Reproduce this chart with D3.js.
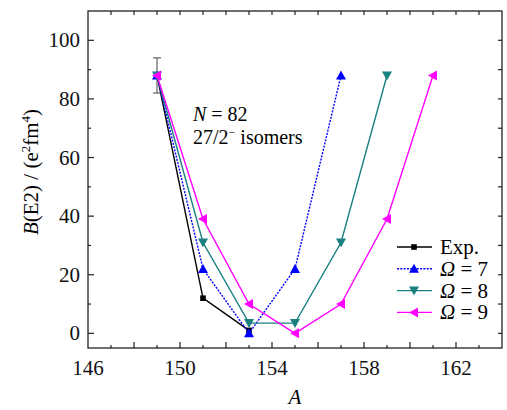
<!DOCTYPE html>
<html>
<head>
<meta charset="utf-8">
<script src="https://cdn.jsdelivr.net/npm/d3@7"></script>
<style>
  body { margin: 0; background: #fff; }
  svg text { font-family: "Liberation Serif"; }
</style>
</head>
<body>
<svg id="chart" width="507" height="410"></svg>
<script>
// values
const massA = [149, 151, 153, 155, 157, 159, 161];
const expVals = [88, 12, 1];
const expErr = [6, null, null];
const omega7 = [88, 22, 0, 22, 88];
const omega8 = [88, 31, 3.5, 3.5, 31, 88];
const omega9 = [88, 39, 10, 0, 10, 39, 88];
const xTickLabels = [146, 150, 154, 158, 162];
const yTickLabels = [0, 20, 40, 60, 80, 100];

const series = [
  { name: "Exp.", vals: expVals, color: "#000", marker: "square", dash: null },
  { name: "7", vals: omega7, color: "#0000ff", marker: "up", dash: "2,1.3" },
  { name: "8", vals: omega8, color: "#1a8080", marker: "down", dash: null },
  { name: "9", vals: omega9, color: "#ff00ff", marker: "left", dash: null }
];

const svg = d3.select("#chart");
const padL = 88, padR = 502, padT = 11, padB = 348;

const x = d3.scaleLinear().domain([146, 164]).range([padL, padR]);
const y = d3.scaleLinear().domain([-5, 110]).range([padB, padT]);

// frame
svg.append("rect")
  .attr("x", padL).attr("y", padT)
  .attr("width", padR - padL).attr("height", padB - padT)
  .attr("fill", "none").attr("stroke", "#222").attr("stroke-width", 1.3);

// ticks (inward)
const g = svg.append("g").attr("stroke", "#222").attr("stroke-width", 1.2);
d3.range(147, 164, 1).forEach(v => {
  const len = v % 2 === 0 ? 6 : 3;
  g.append("line").attr("x1", x(v)).attr("x2", x(v)).attr("y1", padB).attr("y2", padB - len);
  g.append("line").attr("x1", x(v)).attr("x2", x(v)).attr("y1", padT).attr("y2", padT + 4);
});
d3.range(0, 110, 10).forEach(v => {
  const len = v % 20 === 0 ? 6 : 3;
  g.append("line").attr("y1", y(v)).attr("y2", y(v)).attr("x1", padL).attr("x2", padL + len);
  g.append("line").attr("y1", y(v)).attr("y2", y(v)).attr("x1", padR).attr("x2", padR - 4);
});

// tick labels
svg.selectAll(".xl").data(xTickLabels).enter().append("text")
  .attr("x", d => x(d)).attr("y", 375)
  .attr("text-anchor", "middle").attr("font-size", 21).attr("fill", "#111")
  .text(d => d);
svg.selectAll(".yl").data(yTickLabels).enter().append("text")
  .attr("x", 80).attr("y", d => y(d) + 7)
  .attr("text-anchor", "end").attr("font-size", 21).attr("fill", "#111")
  .text(d => d);

// axis titles
svg.append("text")
  .attr("x", 295).attr("y", 404)
  .attr("text-anchor", "middle").attr("font-size", 21).attr("font-style", "italic")
  .text("A");

const yt = svg.append("text")
  .attr("transform", "translate(38,172) rotate(-90)")
  .attr("text-anchor", "middle").attr("font-size", 21);
yt.append("tspan").attr("font-style", "italic").text("B");
yt.append("tspan").text("(E2) / (e");
yt.append("tspan").attr("font-size", 13).attr("dy", -8).text("2");
yt.append("tspan").attr("dy", 8).text("fm");
yt.append("tspan").attr("font-size", 13).attr("dy", -8).text("4");
yt.append("tspan").attr("dy", 8).text(")");

// annotation
const a1 = svg.append("text").attr("x", 193).attr("y", 121).attr("font-size", 20);
a1.append("tspan").attr("font-style", "italic").text("N");
a1.append("tspan").text(" = 82");
const a2 = svg.append("text").attr("x", 193).attr("y", 144).attr("font-size", 20);
a2.append("tspan").text("27/2");
a2.append("tspan").attr("font-size", 12).attr("dy", -8).text("\u2212");
a2.append("tspan").attr("dy", 8).text(" isomers");

// markers
function markerPath(type) {
  const s = 5;
  if (type === "square") return "M-2.8,-2.8H2.8V2.8H-2.8Z";
  if (type === "up") return `M0,${-s}L${s},${s * 0.8}L${-s},${s * 0.8}Z`;
  if (type === "down") return `M0,${s}L${s},${-s * 0.8}L${-s},${-s * 0.8}Z`;
  return `M${-s},0L${s * 0.8},${-s}L${s * 0.8},${s}Z`;
}

// error bar on experimental point
expVals.forEach((v, i) => {
  if (expErr[i] == null) return;
  const cx = x(massA[i]);
  const eb = svg.append("g").attr("stroke", "#555").attr("stroke-width", 1.1);
  eb.append("line").attr("x1", cx).attr("x2", cx).attr("y1", y(v - expErr[i])).attr("y2", y(v + expErr[i]));
  eb.append("line").attr("x1", cx - 4).attr("x2", cx + 4).attr("y1", y(v - expErr[i])).attr("y2", y(v - expErr[i]));
  eb.append("line").attr("x1", cx - 4).attr("x2", cx + 4).attr("y1", y(v + expErr[i])).attr("y2", y(v + expErr[i]));
});

const line = d3.line().x((d, i) => x(massA[i])).y(d => y(d));
series.forEach(s => {
  svg.append("path")
    .attr("d", line(s.vals))
    .attr("fill", "none").attr("stroke", s.color).attr("stroke-width", 1.4)
    .attr("stroke-dasharray", s.dash);
  svg.selectAll(null).data(s.vals).enter().append("path")
    .attr("transform", (d, i) => `translate(${x(massA[i])},${y(d)})`)
    .attr("d", markerPath(s.marker))
    .attr("fill", s.color);
});

// legend
const lg = svg.append("g");
series.forEach((s, i) => {
  const cy = 247 + i * 21.8;
  lg.append("line").attr("x1", 397).attr("x2", 432).attr("y1", cy).attr("y2", cy)
    .attr("stroke", s.color).attr("stroke-width", 1.4).attr("stroke-dasharray", s.dash);
  lg.append("path").attr("transform", `translate(414,${cy})`)
    .attr("d", markerPath(s.marker)).attr("fill", s.color);
  const t = lg.append("text").attr("x", 440).attr("y", cy + 7).attr("font-size", 21);
  if (i === 0) t.text(s.name);
  else {
    t.append("tspan").attr("font-style", "italic").text("\u03A9");
    t.append("tspan").text(" = " + s.name);
  }
});
</script>
</body>
</html>
